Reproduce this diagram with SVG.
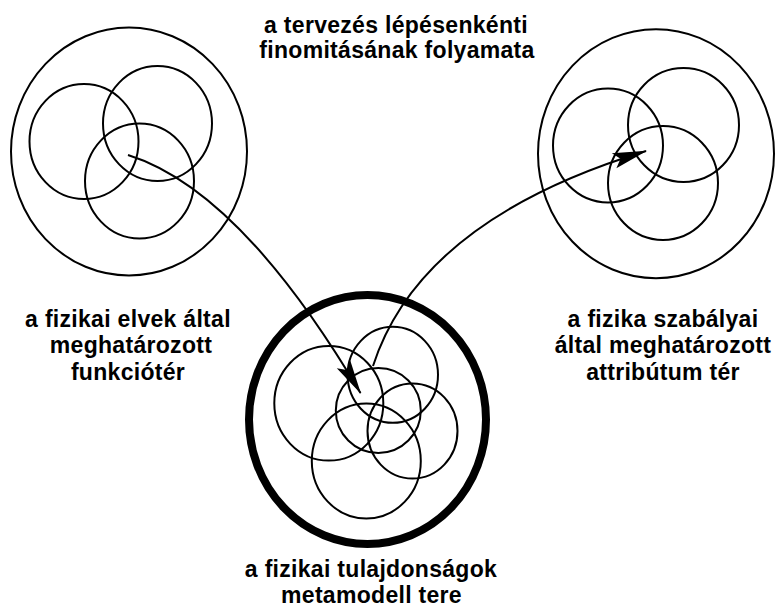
<svg xmlns="http://www.w3.org/2000/svg" width="776" height="607" viewBox="0 0 776 607">
<style>
.c{fill:none;stroke:#000;stroke-width:2}
.thick{fill:none;stroke:#000;stroke-width:8}
.t{font-family:"Liberation Sans",Arial,sans-serif;font-weight:bold;font-size:23px;letter-spacing:0.3px;fill:#000;text-anchor:middle}
.con{fill:none;stroke:#000;stroke-width:2}
</style>
<defs>
<marker id="ah" markerUnits="userSpaceOnUse" markerWidth="40" markerHeight="30" viewBox="-32 -10 36 20" refX="0" refY="0" orient="auto">
<path d="M1,0 L-30,-7 L-24,0 L-30,7 Z" fill="#000"/>
</marker>
</defs>
<rect width="776" height="607" fill="#fff"/>
<g id="title">
<text class="t" x="396" y="33">a tervezés lépésenkénti</text>
<text class="t" x="397" y="58">finomitásának folyamata</text>
</g>
<g id="funkcioter">
<ellipse class="c" cx="129" cy="151.5" rx="118" ry="124"/>
<ellipse class="c" cx="84" cy="141.5" rx="54.5" ry="57.5"/>
<ellipse class="c" cx="157.5" cy="123.5" rx="54.5" ry="57.5"/>
<ellipse class="c" cx="139.5" cy="181" rx="54.5" ry="57.5"/>
<text class="t" x="128" y="327">a fizikai elvek által</text>
<text class="t" x="131" y="353">meghatározott</text>
<text class="t" x="128" y="380">funkciótér</text>
</g>
<g id="attributum">
<ellipse class="c" cx="656" cy="153.7" rx="118" ry="124.5"/>
<ellipse class="c" cx="608" cy="145.5" rx="55" ry="57"/>
<ellipse class="c" cx="683.5" cy="125" rx="55.5" ry="57"/>
<ellipse class="c" cx="663" cy="183" rx="55" ry="57"/>
<text class="t" x="663" y="327">a fizika szabályai</text>
<text class="t" x="663" y="353">által meghatározott</text>
<text class="t" x="663" y="380">attribútum tér</text>
</g>
<g id="metamodell">
<ellipse class="thick" cx="367.5" cy="419.5" rx="118.5" ry="124.5"/>
<ellipse class="c" cx="328.8" cy="403.3" rx="54.5" ry="57.3"/>
<ellipse class="c" cx="392.8" cy="374.8" rx="45.2" ry="48"/>
<ellipse class="c" cx="378.3" cy="410.5" rx="42.5" ry="42.5"/>
<ellipse class="c" cx="412.5" cy="431" rx="45" ry="47.5"/>
<ellipse class="c" cx="366.3" cy="461" rx="54.5" ry="57.5"/>
<text class="t" x="371" y="577">a fizikai tulajdonságok</text>
<text class="t" x="371.5" y="603">metamodell tere</text>
</g>
<g id="connectors">
<path class="con" d="M128,155 Q240,190 360.5,393" marker-end="url(#ah)"/>
<path class="con" d="M373,366 Q420,220 646,151" marker-end="url(#ah)"/>
</g>
</svg>
